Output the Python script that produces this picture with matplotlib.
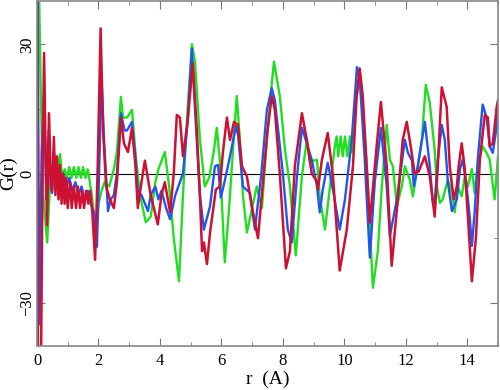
import matplotlib
matplotlib.use('Agg')
import matplotlib.pyplot as plt
from matplotlib.ticker import MultipleLocator

# green curve
r_green = [0.0, 0.06, 0.12, 0.2, 0.33, 0.42, 0.5, 0.55, 0.62, 0.7, 0.75, 0.82, 0.9, 0.97,
           1.05, 1.12, 1.2, 1.28, 1.35, 1.43, 1.5, 1.58, 1.65, 1.72, 1.8, 1.92, 2.0, 2.1,
           2.2, 2.35, 2.5, 2.6, 2.73, 2.8, 2.93, 3.09, 3.2, 3.35, 3.54, 3.7, 3.85, 3.95,
           4.16, 4.3, 4.45, 4.62, 4.75, 4.9, 5.04, 5.14, 5.3, 5.46, 5.6, 5.75, 5.85, 5.95,
           6.11, 6.25, 6.4, 6.5, 6.6, 6.7, 6.83, 7.0, 7.15, 7.32, 7.45, 7.6, 7.71, 7.9,
           8.07, 8.23, 8.42, 8.62, 8.78, 8.88, 9.0, 9.11, 9.2, 9.37, 9.55, 9.69, 9.75, 9.8,
           9.88, 9.95, 10.02, 10.1, 10.18, 10.25, 10.35, 10.5, 10.6, 10.73, 10.93, 11.09,
           11.22, 11.38, 11.48, 11.58, 11.71, 11.87, 11.97, 12.13, 12.23, 12.39, 12.52,
           12.65, 12.78, 12.94, 13.01, 13.11, 13.2, 13.37, 13.5, 13.59, 13.69, 13.82, 13.92,
           14.02, 14.15, 14.24, 14.34, 14.5, 14.63, 14.73, 14.89, 15.0]
g_green = [10, 45, 20, -5, -16, -3, 0, 2, -1, 2, 4.5, -1, 1, -1,
           1.5, -1, 1.5, -1, 1.5, -1, 1.5, -1, 1, -2, -6, -15, -7, -4,
           -2, -3, 1, 5, 17.8, 13, 13, 14.8, 5, -5, -11.3, -10, -2, 1,
           5, -3, -15, -25, -5, 15, 30, 26, 8, -3, -1, 5, 10.6, 3,
           -20.6, -8, 8, 18, 8, -5, -13.7, -8, -3, -8, 5, 18, 26, 18,
           5.5, -3, -19, -0.6, 7.8, 2.5, 3, 3.2, -5.3, -13, -2, 6.3, 8.6, 4,
           8.6, 4, 8.6, 4, 8.6, 5, 15, 22.8, 15, 1.7, -26.5, -18,
           -3, 11.3, 3.2, 1.7, -7.6, -3, 1.7, -1.4, -5.3, 1.7, 7.8,
           20.6, 16.4, 5.5, -3, -6.8, -6, -1.4, -4.5, -9, -3, -5.3, -0.6,
           -3, 1, -4.5, 1.7, 6.3, 4.8, 3.2, -6, 4]

# blue curve
r_blue = [0.0, 0.02, 0.08, 0.15, 0.23, 0.3, 0.38, 0.45, 0.49, 0.55, 0.62, 0.7, 0.78, 0.85,
          0.95, 1.05, 1.15, 1.25, 1.35, 1.45, 1.55, 1.65, 1.75, 1.85, 1.95, 2.02, 2.1,
          2.18, 2.31, 2.4, 2.5, 2.6, 2.73, 2.85, 2.93, 3.09, 3.2, 3.28, 3.4, 3.61, 3.7,
          3.85, 3.95, 4.05, 4.2, 4.33, 4.5, 4.75, 4.9, 5.04, 5.14, 5.3, 5.43, 5.63, 5.79,
          5.89, 5.98, 6.1, 6.28, 6.47, 6.54, 6.7, 6.93, 7.09, 7.3, 7.48, 7.64, 7.74, 8.0,
          8.16, 8.29, 8.46, 8.62, 8.81, 8.94, 9.11, 9.2, 9.3, 9.46, 9.53, 9.66, 9.85,
          10.02, 10.24, 10.41, 10.5, 10.65, 10.83, 10.99, 11.19, 11.38, 11.48, 11.71,
          11.97, 12.07, 12.2, 12.26, 12.39, 12.62, 12.78, 12.88, 12.94, 13.04, 13.17,
          13.27, 13.37, 13.5, 13.66, 13.76, 13.85, 13.98, 14.08, 14.15, 14.24, 14.34,
          14.5, 14.63, 14.73, 14.83, 14.96, 15.0]
g_blue = [20, 40, -35, 5, 18, -6, 10, -3, -4.5, 5, -3, 1, -3, 0,
          -3, -1, -4, -2, -5, -3, -6, -4, -7, -9, -17, 0, 22,
          8, -8.7, -6, -5, 0, 14, 10, 10, 12, 4, -4, -5, -8.7, -5,
          -3, -6, -4, -8, -10.6, -5, 0, 12, 29, 15, -5, -13, -7.6, 1.7,
          2, -5.6, -2, 4, 11, 9, -3, -4.5, -13, 0, 14.8, 19.8, 17, 0,
          -13, -16, -0.6, 10.6, 6.3, 3.2, -3, -9, -3.7, 2.5, 0, -5, -13,
          -6, 7.8, 24.7, 22, 5, -19.5, -2, 10.6, -3, -14.5, -6,
          7.8, 4.8, 3, -3, 1.7, 12, 1.7, -6.8, -6.8, 3, 11.3,
          7.8, -2, -8.7, -6, 1, 3.2, -3, -10, -16.8, -9, 3.2,
          16, 13, 6.3, 4.8, 11, 15]

# red curve
r_red = [0.0, 0.03, 0.13, 0.18, 0.23, 0.28, 0.33, 0.39, 0.45, 0.49, 0.55, 0.6, 0.65, 0.7,
         0.75, 0.8, 0.85, 0.9, 0.95, 1.0, 1.07, 1.13, 1.2, 1.27, 1.33, 1.4, 1.47, 1.53,
         1.6, 1.67, 1.73, 1.8, 1.89, 1.97, 2.07, 2.15, 2.25, 2.37, 2.5, 2.6, 2.73, 2.83,
         2.96, 3.09, 3.2, 3.28, 3.4, 3.51, 3.7, 3.93, 4.05, 4.16, 4.33, 4.45, 4.55, 4.65,
         4.75, 4.9, 5.07, 5.2, 5.3, 5.37, 5.43, 5.53, 5.63, 5.82, 5.95, 6.05, 6.18, 6.28,
         6.41, 6.54, 6.67, 6.83, 6.99, 7.19, 7.35, 7.5, 7.64, 7.74, 7.9, 8.1, 8.23, 8.39,
         8.62, 8.78, 8.94, 9.11, 9.14, 9.27, 9.46, 9.63, 9.85, 10.08, 10.28, 10.4, 10.5,
         10.6, 10.83, 11.06, 11.19, 11.38, 11.54, 11.74, 11.9, 12.03, 12.16, 12.29, 12.42,
         12.62, 12.78, 12.94, 13.04, 13.17, 13.33, 13.43, 13.56, 13.66, 13.72, 13.82,
         13.92, 14.02, 14.15, 14.28, 14.41, 14.57, 14.67, 14.73, 14.83, 14.96, 15.0]
g_red = [45, -45, -45, 0, 28, 5, -12, 14, -2, -4, 8.5, -5, 4, -6,
         2, -7, 0, -7, -1, -8, -2, -8, -3, -8, -3, -8, -4, -8,
         -4, -7, -4, -9, -20, 0, 33.7, 10, -3, -6, -8, -2, 13, 7,
         5, 10.6, 2, -8, -2, 3, -5, -11.8, -5, -2, -9, 0, 13.6, 13,
         4, 12, 25.6, 10, -5, -18, -16, -21, -13.7, -3.7, -3, 5, 13, 7.8,
         12, 11.3, 1.7, -0.7, -7.6, -15, -2, 10, 18, 14.8, 0, -22, -18, 1.7,
         14, 7.8, 0, -1.8, -3.7, 3.2, 9.4, -0.6, -22.5, -13, 1.7, 18, 24.4,
         18, -11.4, 7, 16.6, 1.7, -21.4, -6, 7.8, 12, 6.3, 0, 0.5,
         4, -0.6, -10, 1.7, 20, 15.5, 1.7, -6, -3, 1.7, 7,
         1, -10, -25, -15, 3.2, 13.6, 13, 6.3, 7, 15.5, 17]

plt.rcParams['font.family'] = ['Liberation Serif', 'DejaVu Serif']

fig = plt.figure(figsize=(5, 3.9), dpi=100)
ax = fig.add_axes([0.074, 0.113, 0.922, 0.884])

style = dict(solid_joinstyle='round', solid_capstyle='round')
ax.plot(r_green, g_green, color='#22dd22', lw=1.7, **style)
ax.plot(r_blue, g_blue, color='#2255ee', lw=1.7, **style)
ax.plot(r_red, g_red, color='#cc1133', lw=1.8, **style)
ax.axhline(0, color='black', lw=0.8, zorder=0)

ax.set_xlim(0, 15)
ax.set_ylim(-40, 40)
ax.xaxis.set_major_locator(MultipleLocator(2))
ax.xaxis.set_minor_locator(MultipleLocator(1))
ax.yaxis.set_major_locator(MultipleLocator(30))
ax.yaxis.set_minor_locator(MultipleLocator(15))
ax.tick_params(which='both', direction='in', top=True, right=True, color='#777777', labelsize=12)
ax.tick_params(which='major', length=6)
ax.tick_params(which='minor', length=3)
ax.tick_params(axis='y', pad=1)
ax.tick_params(axis='x', pad=5)
for lab in ax.get_yticklabels():
    lab.set_rotation(90)
    lab.set_va('center')
for s in ax.spines.values():
    s.set_color('#888888')
    s.set_linewidth(1.2)

ax.set_xlabel('r  (A)', fontsize=14, labelpad=1)
ax.set_ylabel('G(r)', fontsize=14, labelpad=2)

fig.savefig('out.png', dpi=100)
